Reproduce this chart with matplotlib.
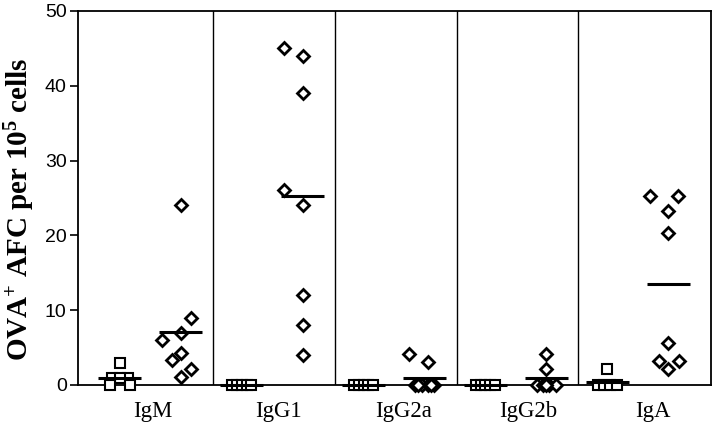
import matplotlib
matplotlib.use("Agg")
import matplotlib.pyplot as plt
import numpy as np

plt.rcParams["mathtext.fontset"] = "custom"
plt.rcParams["mathtext.rm"] = "Liberation Serif:bold"
plt.rcParams["mathtext.bf"] = "Liberation Serif:bold"
plt.rcParams["mathtext.it"] = "Liberation Serif:bold"

# ---- data ----
categories = ["IgM", "IgG1", "IgG2a", "IgG2b", "IgA"]

# control group (open squares)
igm_sq = [3, 1, 1, 1, 0, 0]
igg1_sq = [0, 0, 0, 0, 0]
igg2a_sq = [0, 0, 0, 0, 0]
igg2b_sq = [0, 0, 0, 0, 0]
iga_sq = [2.2, 0, 0, 0, 0]

# immunised group (open diamonds)
igm_dm = [24, 9, 7, 6, 4.3, 3.3, 2.1, 1.1]
igg1_dm = [45, 44, 39, 26, 24, 12, 8, 4]
igg2a_dm = [4.1, 3.1, 0, 0, 0, 0, 0, 0]
igg2b_dm = [4.1, 2.1, 0, 0, 0, 0, 0]
iga_dm = [25.2, 25.2, 23.2, 20.3, 5.6, 3.2, 3.2, 2.1]

y_ticks = [0, 10, 20, 30, 40, 50]

# ---- layout (horizontal jitter, positions) ----
sq_dx = {
    "IgM": [0, -0.13, 0.13, 0, -0.16, 0.16],
    "IgG1": [-0.16, -0.08, 0, 0.08, 0.16],
    "IgG2a": [-0.16, -0.08, 0, 0.08, 0.16],
    "IgG2b": [-0.16, -0.08, 0, 0.08, 0.16],
    "IgA": [0, -0.15, -0.05, 0.05, 0.15],
}
dm_dx = {
    "IgM": [0, 0.16, 0, -0.3, 0, -0.14, 0.16, 0],
    "IgG1": [-0.31, 0, 0, -0.31, 0, 0, 0, 0],
    "IgG2a": [-0.25, 0.06, -0.15, -0.05, 0.05, 0.15, -0.1, 0.1],
    "IgG2b": [0, 0, -0.15, -0.05, 0.05, 0.15, 0],
    "IgA": [-0.3, 0.16, 0, 0, 0, -0.15, 0.18, 0],
}

squares = [igm_sq, igg1_sq, igg2a_sq, igg2b_sq, iga_sq]
diamonds = [igm_dm, igg1_dm, igg2a_dm, igg2b_dm, iga_dm]

fig = plt.figure(figsize=(7.2, 4.36), dpi=100)
ax = fig.add_axes([0.108, 0.117, 0.8795, 0.858])

half = 0.35
for i, cat in enumerate(categories):
    xs = 2 * i + 1
    xd = 2 * i + 2
    sv = np.array(squares[i], dtype=float)
    dv = np.array(diamonds[i], dtype=float)
    ax.plot(xs + np.array(sq_dx[cat]), sv, linestyle="none", marker="s",
            ms=7.5, mfc="white", mec="black", mew=1.5, clip_on=False, zorder=3)
    ax.plot(xd + np.array(dm_dx[cat]), dv, linestyle="none", marker="D",
            ms=6.5, mfc="white", mec="black", mew=2.0, clip_on=False, zorder=3)
    ax.plot([xs - half, xs + half], [sv.mean()] * 2, color="black", lw=2.2,
            solid_capstyle="butt", clip_on=False, zorder=4)
    ax.plot([xd - half, xd + half], [dv.mean()] * 2, color="black", lw=2.2,
            solid_capstyle="butt", clip_on=False, zorder=4)

for xdiv in [2.53, 4.53, 6.54, 8.52]:
    ax.axvline(xdiv, color="black", lw=1.0, zorder=1)

ax.set_xlim(0.31, 10.7)
ax.set_ylim(0, 50)
ax.set_yticks(y_ticks)
ax.set_yticklabels([str(t) for t in y_ticks], family="Liberation Sans", fontsize=14)
ax.tick_params(axis="y", direction="out", length=6, width=1.2, pad=2)
ax.set_xticks([])
for s in ax.spines.values():
    s.set_linewidth(1.3)

label_x = [1.55, 3.6, 5.65, 7.7, 9.75]
for lx, cat in zip(label_x, categories):
    ax.text(lx, -3.5, cat, ha="center", va="center", family="Liberation Serif",
            fontsize=16.5)

ax.set_ylabel(r"OVA$^{+}$ AFC per 10$^{5}$ cells", family="Liberation Serif",
              fontweight="bold", fontsize=21, va="center")
ax.yaxis.set_label_coords(-0.091, 0.47)

fig.savefig("out.png", dpi=100)
